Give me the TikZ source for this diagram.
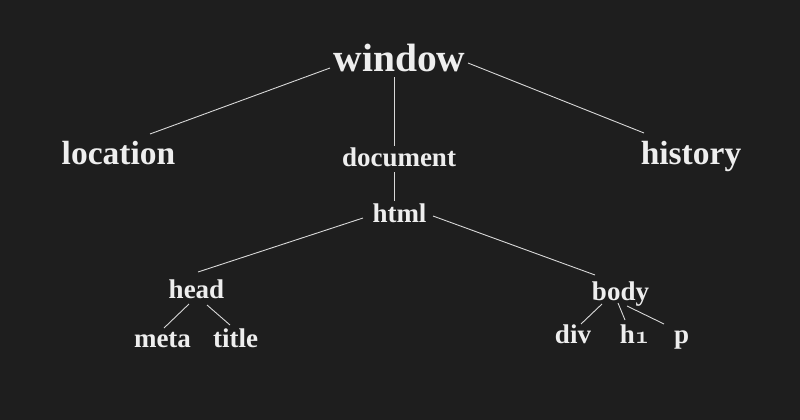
\documentclass[tikz,border=0pt]{standalone}
\usepackage{fontspec}
\setmainfont{Liberation Serif}
\definecolor{bg}{HTML}{1E1E1E}
\definecolor{fg}{HTML}{EEEEEE}
\definecolor{ln}{HTML}{D8D8D8}
\tikzset{
  lbl/.style={anchor=base, inner sep=0pt, text=fg, font=\bfseries},
  big/.style={lbl, font=\bfseries\fontsize{39.5}{42}\selectfont},
  mid/.style={lbl, font=\bfseries\fontsize{33.5}{36}\selectfont},
  small/.style={lbl, font=\bfseries\fontsize{27}{29}\selectfont},
  edge/.style={draw=ln, line width=0.9pt}
}
\begin{document}
\begin{tikzpicture}[x=1pt,y=-1pt]
\fill[bg] (0,0) rectangle (800,420);
\useasboundingbox (0,0) rectangle (800,420);
\node[big] (window) at (399.5,71) {window};
\node[mid] (location) at (118.5,164) {location};
\node[small] (document) at (399,166) {document};
\node[mid] (history) at (691,164) {history};
\node[small] (html) at (399.5,222) {html};
\node[small] (head) at (196.5,298) {head};
\node[small] (body) at (620.5,300) {body};
\node[small] (meta) at (162.5,347) {meta};
\node[small] (title) at (235.5,347) {title};
\node[small] (div) at (573,343) {div};
\node[small] (h1) at (634.5,343) {h{\usefont{OML}{cmm}{b}{it}1}};
\node[small] (p) at (681.5,343) {p};
\draw[edge] ([shift={(-69.5,-3)}]window.base) -- ([shift={(31.5,-30)}]location.base);
\draw[edge] ([shift={(-5.5,6)}]window.base) -- ([shift={(-5,-20)}]document.base);
\draw[edge] ([shift={(68.5,-8)}]window.base) -- ([shift={(-47,-31)}]history.base);
\draw[edge] ([shift={(-5,6)}]document.base) -- ([shift={(-5.5,-21)}]html.base);
\draw[edge] ([shift={(-36.5,-4)}]html.base) -- ([shift={(1.5,-26)}]head.base);
\draw[edge] ([shift={(33.5,-6)}]html.base) -- ([shift={(-25.5,-25)}]body.base);
\draw[edge] ([shift={(-7.5,6)}]head.base) -- ([shift={(1.5,-19)}]meta.base);
\draw[edge] ([shift={(10.5,7)}]head.base) -- ([shift={(-5.5,-22)}]title.base);
\draw[edge] ([shift={(-18.5,4)}]body.base) -- ([shift={(8,-19)}]div.base);
\draw[edge] ([shift={(-2.5,3)}]body.base) -- ([shift={(-9.5,-23)}]h1.base);
\draw[edge] ([shift={(6.5,6)}]body.base) -- ([shift={(-17.5,-19)}]p.base);
\end{tikzpicture}
\end{document}
